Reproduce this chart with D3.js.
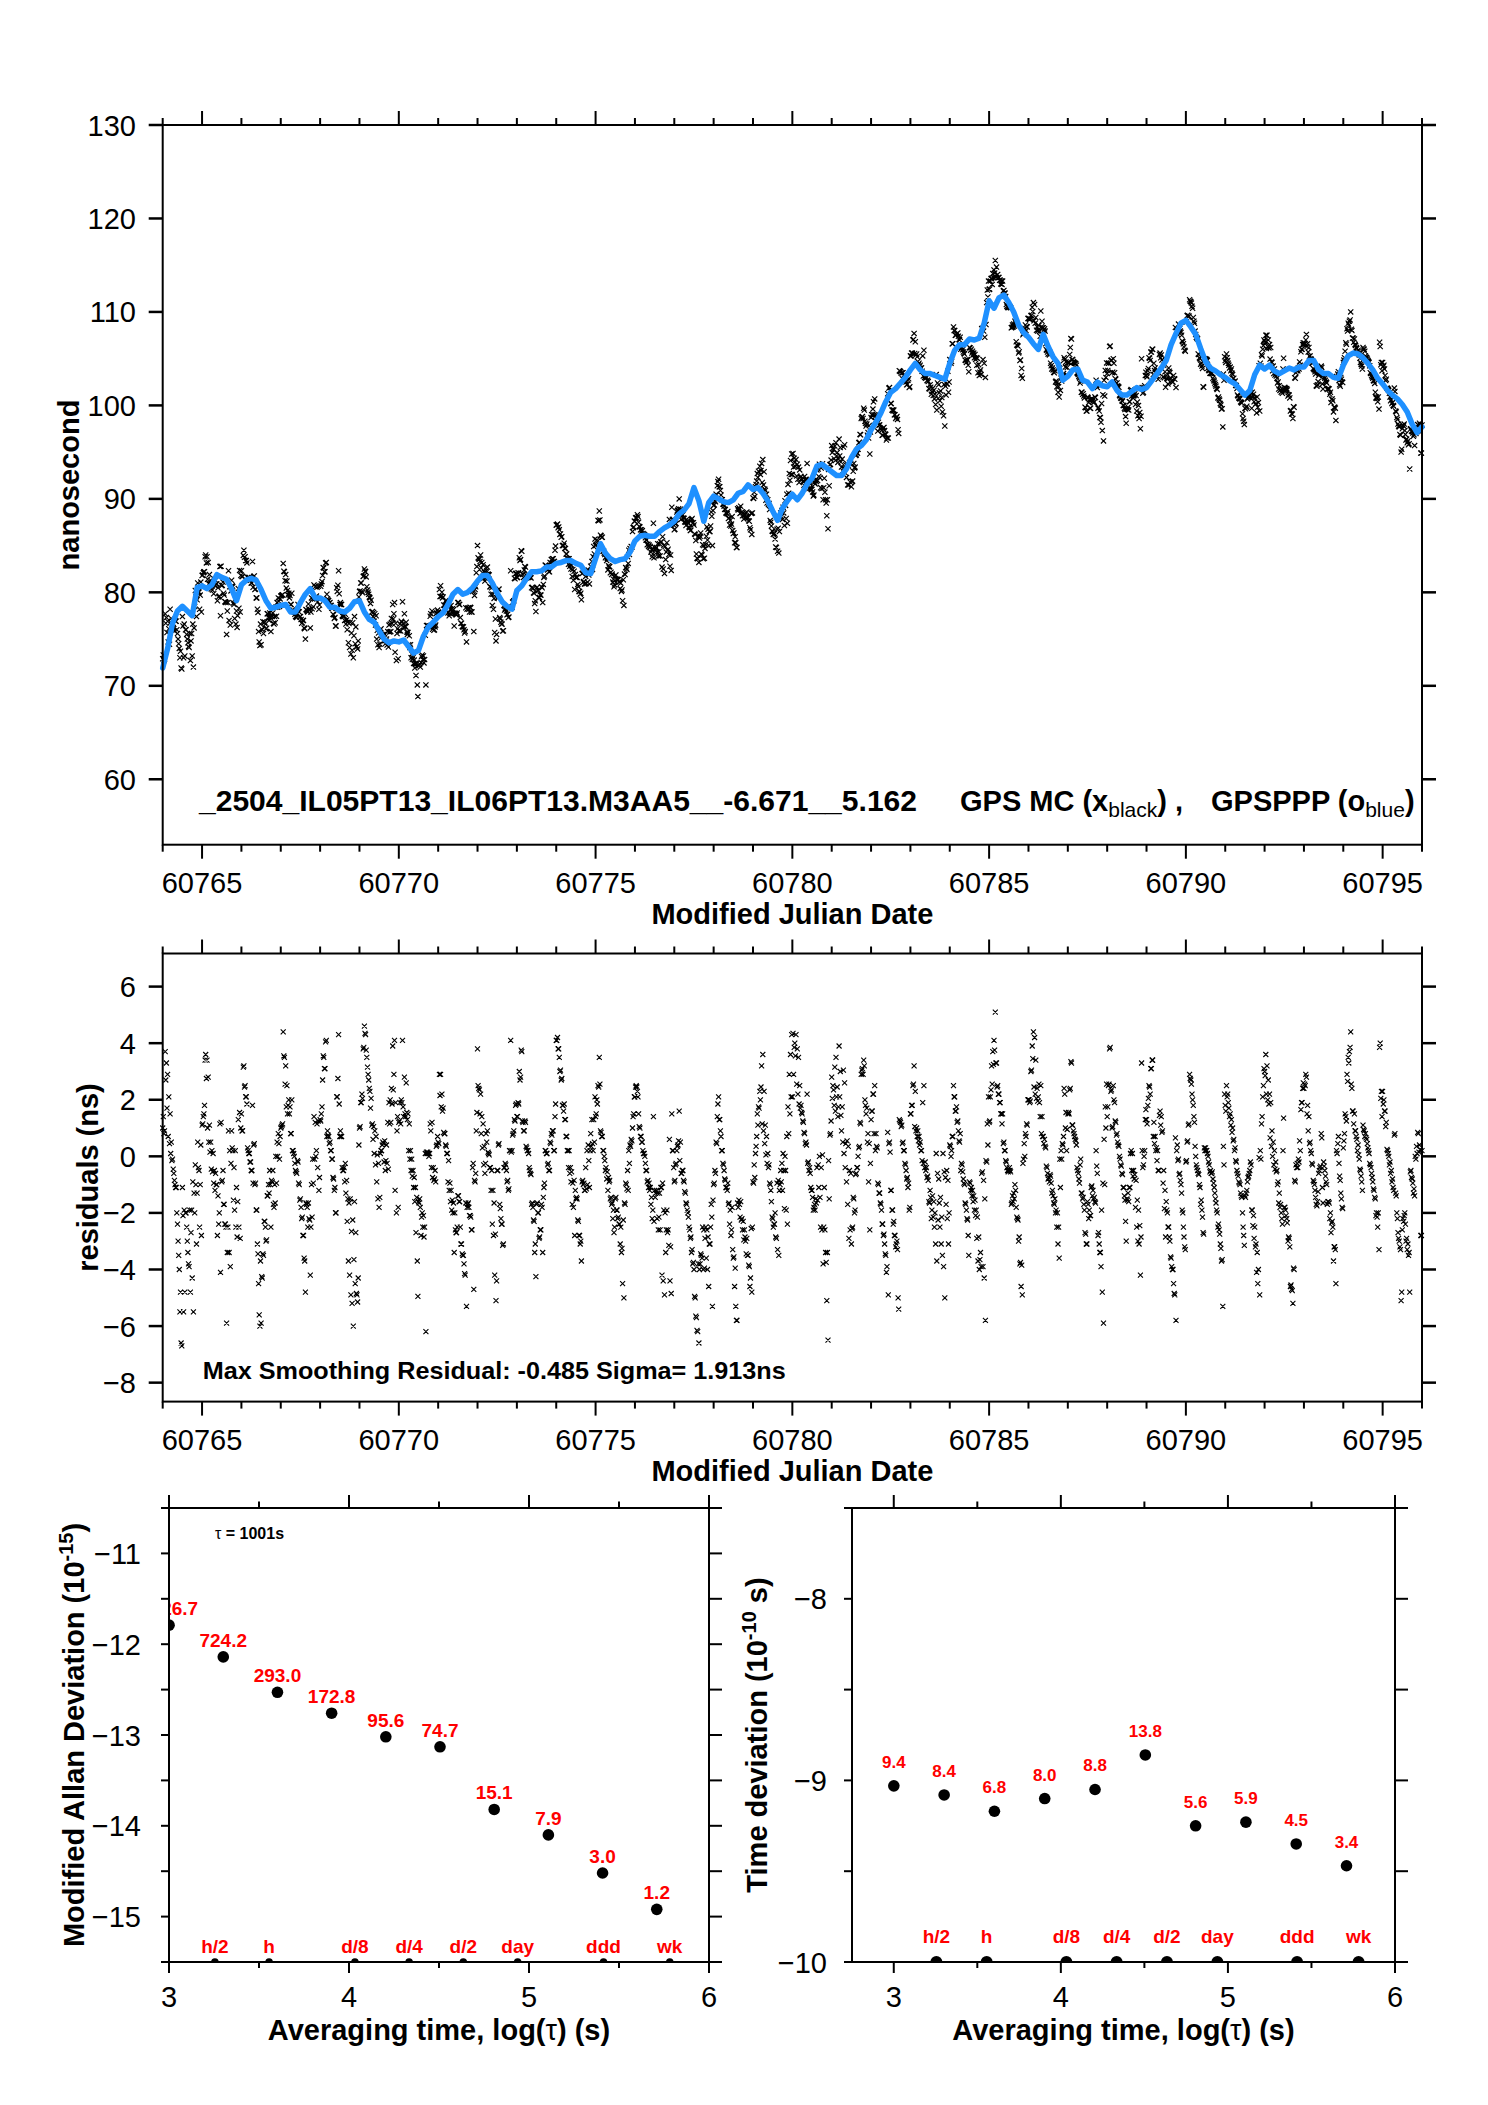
<!DOCTYPE html>
<html><head><meta charset="utf-8">
<script src="https://cdn.jsdelivr.net/npm/d3@7"></script>
<style>body{margin:0;background:#fff} svg text{font-family:"Liberation Sans",Arial,Helvetica,sans-serif}</style>
</head><body><script>
// ---------------- DATA ----------------
const mjdStart = 60764;
const blueStep = 0.125;     // GPSPPP smoothed curve sampling (days)
const residStep = 0.03125;  // GPS MC sampling (days); series B is offset by half a step
const blueNs = [71.9,74.0,76.7,78.0,78.5,78.0,77.5,80.5,80.7,80.4,80.8,81.9,81.6,81.4,80.4,79.1,80.8,81.3,81.5,81.3,80.3,79.1,78.3,78.4,78.6,78.7,77.9,77.9,78.9,79.8,80.4,79.4,79.4,79.1,78.4,78.4,78.0,77.9,78.3,79.0,79.1,77.9,77.1,76.8,75.9,75.0,74.6,74.8,74.7,74.9,74.2,73.5,73.8,75.3,76.3,76.8,77.4,77.8,78.7,79.8,80.3,79.8,80.0,80.5,81.2,81.8,81.8,81.0,79.9,79.0,78.5,78.2,80.2,80.7,81.5,82.2,82.2,82.3,82.7,82.7,83.1,83.2,83.4,83.4,83.1,82.9,82.1,82.0,83.6,85.2,84.2,83.6,83.3,83.5,83.6,84.3,85.5,86.0,86.1,86.0,86.0,86.5,86.9,87.2,87.6,88.4,88.8,89.5,91.2,89.8,87.6,89.6,90.3,90.0,89.7,89.6,89.9,90.6,90.8,91.5,91.0,91.2,90.6,89.8,88.7,87.7,89.0,89.8,90.5,89.9,90.6,91.6,92.2,93.5,93.7,93.3,92.9,92.5,92.5,93.2,94.4,95.3,95.7,96.3,97.4,98.2,99.2,100.4,101.4,101.8,102.4,103.0,103.8,104.5,103.8,103.4,103.4,103.2,103.0,102.8,104.5,105.9,106.5,106.5,107.1,107.0,107.2,108.8,111.2,110.4,111.5,111.8,111.0,110.0,108.6,107.8,107.3,106.6,106.0,107.6,106.3,105.2,104.5,102.7,103.1,103.8,103.9,102.7,102.5,101.8,102.5,102.1,102.0,102.5,101.6,101.1,101.1,101.5,101.9,101.7,101.9,102.6,103.3,104.0,104.8,106.5,107.7,108.8,109.1,108.4,107.6,106.1,104.7,104.0,103.7,103.3,103.0,102.6,102.3,101.7,101.1,101.6,103.3,104.3,103.9,104.3,103.7,103.4,103.7,104.0,103.8,104.1,104.1,104.8,104.8,103.8,103.4,103.4,103.0,102.9,104.3,105.3,105.6,105.5,105.1,104.5,103.8,102.9,102.3,101.6,101.1,100.7,100.1,99.3,98.0,97.1,97.7];
const residNsA = [
1.0,0.8,3.7,3.3,2.9,2.1,1.5,0.5,-0.1,-0.6,-1.0,-1.1,-2.4,-3.5,-5.5,-6.6,
-1.1,-5.5,-4.8,-2.0,-3.0,-3.8,-1.9,-2.7,-4.3,-5.5,-2.0,-1.0,-1.3,-0.4,-2.5,0.4,
1.1,1.4,1.8,3.6,3.4,2.8,1.1,0.5,0.2,0.1,-0.5,-0.6,-1.0,-1.4,-2.0,-4.1,
-0.9,-0.5,-1.7,-2.4,-5.9,-2.5,-3.4,-3.9,0.9,0.2,-0.4,0.2,-1.1,-1.6,-2.5,-2.9,
1.5,0.9,3.2,2.5,2.1,0.3,0.1,-0.2,-0.5,1.8,0.4,-1.0,-1.9,-3.1,-4.5,-6.0,
-5.9,-4.3,-3.5,-2.3,-3.0,-1.4,-1.0,-0.5,-2.5,-0.9,-1.7,-1.0,0.0,0.5,0.8,-0.1,
1.0,1.1,4.4,3.5,3.2,2.5,1.8,1.5,0.8,2.0,0.2,0.0,-0.5,-0.6,-0.2,-1.0,
-1.5,-2.2,-2.8,-3.6,-4.8,-1.7,-2.5,-2.2,-4.2,-1.0,-0.1,1.4,1.2,0.2,-0.4,-1.2,
1.3,1.5,2.7,3.5,3.1,4.1,0.9,0.7,0.5,0.2,-0.1,-0.8,-1.1,-2.0,2.1,4.3,
0.7,0.7,-0.4,-0.5,-0.9,-1.3,-2.3,-3.7,-4.2,-4.9,-5.2,-6.0,-1.6,-2.7,-4.9,-4.3,
1.0,1.9,2.2,3.8,4.6,4.3,3.5,2.9,2.4,1.7,1.1,0.6,0.1,-0.3,-0.9,-1.5,
-1.8,0.1,0.2,0.5,-0.2,-0.5,0.4,1.2,1.9,2.0,2.4,3.9,2.9,-1.2,-2.0,1.4,
1.2,1.9,2.0,4.1,1.4,1.5,2.6,1.3,0.2,-0.1,-0.5,-0.7,-1.1,-1.6,-2.7,-3.7,
-1.6,-1.5,-2.8,-2.0,-2.1,-2.5,-6.2,0.1,0.1,0.1,0.9,1.2,-0.4,-0.8,-0.9,0.4,
0.5,2.9,2.9,2.2,1.7,0.8,0.4,0.1,-0.9,-1.2,-1.6,-1.9,-2.0,-3.4,-2.6,-2.7,
-1.4,-1.6,-2.5,-3.1,-3.5,-3.8,-4.2,-5.3,-1.7,-1.8,-2.1,-2.6,-0.4,-4.7,-0.9,0.9,
3.8,2.4,1.5,0.8,0.3,-0.3,-0.6,0.8,0.9,0.1,-0.4,-1.2,-2.4,-2.8,-4.2,-5.1,
-0.5,0.4,-1.7,-2.2,-2.4,-3.1,-0.4,-0.3,-0.9,-1.2,0.2,4.1,0.2,0.8,1.3,1.8,
1.4,1.9,3.0,2.8,3.7,1.2,0.9,1.2,0.3,0.2,-0.4,-0.6,-1.7,-1.8,-2.3,-3.1,
-1.7,-2.0,-2.9,-2.6,-1.7,-3.4,-1.1,0.2,0.1,-0.3,-0.5,0.5,0.8,0.9,0.2,1.4,
4.1,4.2,3.8,3.0,2.7,1.8,1.6,1.3,0.7,0.2,-0.4,-0.6,-0.9,-1.7,-1.8,-2.8,
-1.5,-1.5,-2.3,-2.8,-3.0,-0.9,-1.0,-1.2,-0.4,0.2,0.4,-1.1,0.8,1.3,0.2,0.5,
1.4,2.0,2.5,3.5,0.9,0.7,0.2,0.0,-0.5,-0.8,-1.2,-0.9,-1.5,-1.7,-2.2,-2.7,
-1.5,-1.9,-2.2,-2.4,-3.1,-3.4,-4.5,-5.0,-1.7,-1.0,-0.5,0.2,0.4,0.6,1.0,1.5,
2.1,2.5,2.3,1.5,1.0,0.7,0.5,0.1,0.0,-0.5,-0.9,-1.1,-1.2,-1.7,-2.2,1.4,
-1.2,-1.3,-2.2,-2.6,-1.3,-1.1,-4.2,-4.4,-4.9,-3.4,-1.9,-2.6,0.6,-3.2,1.5,0.2,
-0.9,-0.3,0.2,0.4,1.6,0.5,-0.6,-0.5,-0.9,-1.3,-1.7,-2.0,-2.5,-2.9,-3.4,-3.8,
-4.0,-5.0,-5.7,-6.2,-6.6,-3.8,-3.5,-2.5,-2.6,-2.9,-3.6,-4.0,-4.6,-3.1,-1.7,-5.3,
-1.0,-0.5,0.5,1.4,2.1,1.3,0.7,0.2,-0.3,-0.8,-1.1,-1.2,-1.7,-2.4,-2.8,-1.8,
-3.6,-4.6,-5.3,-5.8,-1.8,-1.7,-1.6,-2.2,-2.3,-2.6,-3.0,-2.9,-3.5,-3.9,-4.3,-4.8,
-0.9,-0.3,0.1,0.7,1.1,1.7,2.0,3.2,3.6,2.3,1.1,0.7,0.1,-0.3,-1.0,-1.6,
-2.2,-2.4,-2.0,-2.9,-3.3,-3.5,-1.0,-0.9,-1.2,-0.5,0.0,-1.9,-2.4,0.8,1.5,2.1,
2.1,2.9,4.0,4.3,3.8,3.5,2.5,1.8,1.5,1.2,0.8,0.5,2.2,-0.2,-0.4,-1.1,
-1.2,-1.9,-1.7,-1.5,-0.4,-0.3,0.0,-2.5,-2.6,-3.8,-1.1,-3.4,-5.1,-6.5,-1.5,0.8,
2.8,2.5,1.8,1.6,2.1,1.4,3.9,3.0,0.9,0.5,0.1,-0.4,-0.9,-1.7,-2.9,-2.6,
-3.1,-2.5,-1.5,-1.9,-0.6,-0.4,0.3,1.2,2.9,3.1,3.4,2.0,1.5,0.5,-0.9,-2.6,
1.3,1.6,2.2,2.5,0.8,0.3,-1.0,-1.3,-1.7,-2.4,-2.8,-3.1,-3.5,-3.9,-4.9,0.5,
-1.2,-1.9,-2.4,-2.8,-3.2,-3.0,-5.0,1.3,1.2,1.1,0.5,0.2,-0.3,-0.8,-1.1,-1.9,
1.5,1.8,2.5,3.2,2.3,1.0,0.9,0.7,0.5,0.2,1.9,2.5,-0.2,-0.4,-0.7,-1.6,
-1.2,-2.2,-1.4,-1.6,-2.0,0.1,-0.6,-0.8,-2.5,-3.1,-3.5,-3.9,-5.0,-1.7,-2.2,-3.1,
0.4,0.0,0.7,2.5,2.1,1.6,1.2,0.9,0.5,-0.5,-0.3,-0.8,-1.0,-1.7,-2.2,-2.8,
-0.9,-1.2,-1.4,-1.6,-1.9,-2.1,-2.9,-3.7,-4.0,-3.4,-0.6,-3.9,-4.3,-5.8,-0.2,0.4,
1.2,2.1,3.2,3.7,4.1,5.1,3.3,2.5,2.2,1.9,1.5,1.5,0.5,0.2,-0.2,-0.5,
-0.5,-0.5,-1.7,-1.4,-1.3,-1.0,-1.8,-2.2,-3.0,-3.8,-4.6,-4.9,-0.1,0.0,0.7,1.1,
2.0,1.9,3.0,3.9,4.4,4.2,3.4,2.4,2.1,1.9,2.5,1.4,0.7,0.6,0.3,-0.4,
-0.8,-0.9,-0.7,-1.3,-1.4,-1.7,-2.0,-2.5,-3.1,-3.6,-1.1,-0.1,0.4,2.4,1.0,0.2,
1.5,1.5,2.4,3.3,1.1,0.8,0.6,0.4,-0.5,-0.8,-0.3,-1.3,-1.5,-1.7,-2.7,-3.1,
-1.6,-2.2,-2.1,-1.1,-1.4,-1.5,-1.6,0.2,-0.6,-2.7,-3.4,-3.9,-4.8,-5.9,-1.0,1.0,
1.4,2.5,3.8,2.3,1.0,2.5,1.9,1.2,0.8,0.4,0.0,-0.3,-0.6,-1.1,-1.4,-2.3,
-1.5,-1.3,-1.1,0.1,-0.5,-0.7,-0.8,-1.8,-2.5,-3.0,-3.1,-4.2,3.3,-0.4,0.0,1.3,
1.3,1.8,2.5,2.2,3.1,3.4,1.2,0.7,0.3,0.2,-0.5,1.6,1.4,0.9,-0.5,-1.2,
-1.6,-2.0,-2.5,-3.0,-3.6,-4.0,-4.5,-4.9,-5.8,0.4,-0.1,-0.6,-1.0,-1.9,-2.5,-3.2,
-0.2,0.5,1.1,2.9,2.7,2.2,1.8,1.2,0.0,-0.4,-0.6,-1.0,-1.7,-1.9,-2.7,0.3,
0.3,0.2,0.0,-0.3,-0.5,-0.6,-0.8,-1.1,-1.5,-1.9,-2.5,-2.6,-3.1,-3.7,-5.3,-0.3,
1.8,2.5,2.2,1.7,1.5,1.3,1.0,0.6,0.3,-0.2,-0.6,-0.9,-1.0,-1.4,-2.0,-2.8,
-1.4,-1.3,-0.9,-0.7,-0.5,-0.3,-1.9,-2.1,-2.5,-3.1,-3.4,-4.0,-4.9,-0.1,1.4,2.5,
3.0,3.6,3.2,2.7,2.2,1.9,0.9,0.5,0.2,-0.2,-0.5,-0.9,-1.3,-1.7,-2.2,0.2,
-1.8,-1.9,-2.2,-3.0,-2.9,-4.6,-4.7,-5.2,-4.0,-0.9,-0.4,-0.4,-0.2,0.2,1.9,2.4,
2.4,2.5,2.8,1.8,1.4,0.5,0.1,-0.3,-0.9,-1.2,-1.7,-1.6,-0.6,-0.4,0.8,-1.1,
-0.2,-0.5,-0.9,-1.7,-1.6,-2.2,-2.7,-2.3,-3.7,-3.2,-4.5,0.1,0.7,-0.7,-1.3,-1.8,
0.3,0.8,1.4,2.9,3.5,3.7,4.4,2.4,1.6,1.5,0.9,0.6,0.4,-0.1,-0.5,-0.9,
1.1,0.9,0.8,0.6,0.3,0.1,-0.3,-0.6,-0.9,-1.2,-1.5,-2.0,-2.5,-3.3,4.0,2.3,
2.3,2.0,1.6,1.2,0.2,0.0,-0.2,-0.5,-0.8,-1.2,0.8,-1.4,-2.2,-2.9,-3.2,-5.1,
-2.6,-2.3,-2.0,-3.0,-3.3,-3.5,-4.8,-0.5,-0.8,-1.3,-1.4,-0.1,0.1,0.8,0.4,-2.8,
0.2];
const residNsB = [
1.4,0.9,2.7,1.7,0.7,0.45,0.1,-0.15,-0.45,-0.85,-1.1,-2.0,-3.0,-4.0,-4.8,-6.7,
-2.1,-1.9,-2.0,-2.5,-3.4,-3.9,-4.8,-1.9,-0.9,-1.3,-0.3,-3.1,0.5,-0.5,-1.0,-2.8,
1.15,1.5,3.4,2.75,1.0,0.5,0.15,-0.45,-0.55,-0.95,-1.2,-1.0,-2.8,-2.4,1.15,1.2,
-0.85,-1.7,-2.4,-2.5,-3.4,0.9,0.2,-0.25,0.3,-1.55,-1.9,-2.5,-2.85,1.3,1.55,1.0,
0.9,3.15,2.45,2.1,1.85,0.2,0.1,-0.2,-0.5,-0.95,0.45,-0.95,-1.9,-3.45,-5.6,-3.7,
-4.25,-3.45,-2.3,-2.5,-2.95,-1.4,-1.3,-1.0,-0.85,-0.5,-1.8,-1.65,-0.95,0.0,0.45,0.7,
1.05,1.15,3.55,2.55,1.75,1.5,2.0,1.75,0.8,0.2,0.1,-0.25,-0.55,-0.15,-0.95,-1.55,
-1.8,-2.15,-2.8,-3.7,-1.65,-1.8,-1.65,-2.25,-2.5,-2.15,-0.95,-0.1,0.0,1.15,1.25,-0.75,
1.25,1.75,3.55,3.1,4.05,0.7,0.75,0.45,0.2,-0.1,-0.75,-1.2,-2.0,2.1,2.75,1.85,
0.9,0.7,-0.5,-0.4,-0.25,-0.85,-1.5,-1.65,-1.5,-2.65,-2.25,-3.65,-4.5,-4.85,-5.15,0.4,
1.05,1.9,2.05,3.85,4.35,3.75,3.15,2.7,2.3,2.05,1.15,1.05,0.9,0.7,0.05,-0.25,
-1.45,0.2,0.4,0.45,0.55,-0.15,-0.25,-0.45,1.15,1.2,1.85,2.35,4.1,1.9,0.9,-1.8,
1.25,1.15,1.9,1.75,2.8,1.4,1.55,1.5,1.15,0.2,-0.1,-0.5,-0.75,-1.1,-1.45,-4.95,
-1.65,-1.8,-2.15,-2.5,-2.85,0.1,0.15,0.15,0.0,1.15,-0.4,-0.75,-0.85,-0.5,0.35,0.7,
0.45,2.15,1.75,1.6,0.85,0.8,0.35,0.1,-0.15,-0.95,-1.2,-1.55,-1.65,-2.0,-2.7,-2.5,
-1.4,-1.6,-3.1,-3.45,-3.5,-4.15,-1.65,-1.8,-1.65,-2.1,-2.15,-2.6,-0.25,-0.85,-0.6,1.55,
2.5,2.35,2.2,1.4,1.15,0.35,-0.25,0.5,0.15,0.05,-0.4,-0.5,-1.2,-1.65,-2.75,-4.4,
-0.5,0.45,-1.85,-2.4,-3.15,-0.4,-0.25,-0.5,-0.85,-1.15,0.2,0.15,0.75,0.9,1.25,1.85,
1.4,1.85,2.7,3.75,1.25,0.9,1.25,0.35,0.2,0.1,-0.5,-0.65,-1.65,-2.25,-3.4,-4.25,
-1.65,-2.0,-2.85,-2.6,-1.8,-1.45,-0.95,0.2,0.1,-0.25,-0.5,0.45,0.75,0.9,0.2,1.85,
4.1,3.8,3.5,3.05,2.75,1.8,1.85,1.3,0.7,0.2,0.2,-0.4,-0.55,-0.95,-0.85,-1.2,
-1.45,-2.25,-2.8,-3.1,-3.7,-0.85,-0.95,-1.2,-1.15,-1.0,-0.15,0.2,0.35,0.45,1.3,2.1,
1.5,1.85,2.45,2.55,0.85,0.7,0.2,-0.15,-0.4,-0.55,-0.75,-0.85,-1.45,-1.65,-1.9,-2.5,
-1.45,-1.9,-2.15,-2.4,-2.5,-3.25,-2.25,-1.65,-0.95,-1.15,-1.2,-0.25,0.35,0.55,1.4,2.1,
2.45,2.45,2.1,1.05,0.7,0.5,0.2,0.1,-0.25,-0.5,-0.85,-0.95,-1.1,-1.45,-1.9,-2.3,
-1.45,-1.2,-1.3,-2.15,-2.6,-1.1,-0.95,-1.9,-2.0,-2.6,-2.7,-3.15,-4.4,-4.85,0.2,-0.4,
-0.85,-0.25,0.35,0.55,-0.15,-0.6,-0.5,-0.85,-1.25,-1.65,-1.9,-2.15,-2.6,-2.85,-3.3,-3.75,
-4.95,-5.65,-6.15,-3.8,-4.0,-3.45,-3.6,-4.0,-3.95,-2.5,-2.6,-2.85,-3.1,-2.5,-2.15,-1.55,
-0.95,-0.6,0.45,1.85,1.3,0.9,0.2,-0.25,-0.5,-0.85,-1.1,-0.95,-1.65,-1.9,-2.6,-3.3,
-3.55,-3.95,-5.8,-1.65,-1.55,-2.15,-2.25,-2.6,-2.95,-2.85,-3.45,-3.5,-3.85,-4.6,-2.55,-2.5,
-0.95,-0.75,0.35,1.5,1.75,2.3,2.45,1.15,0.9,0.45,0.05,-0.25,-0.4,-0.95,-1.2,-2.15,
-2.5,-2.4,-2.85,-0.95,-0.85,-1.2,-0.5,-0.25,0.1,-1.85,-0.5,0.7,1.75,2.9,3.6,4.3,
4.35,3.85,3.55,2.55,2.2,1.85,1.7,1.55,1.25,0.85,0.45,0.4,-0.25,-0.5,-0.6,-1.2,
-1.45,-1.8,-1.9,-1.65,-1.55,-1.1,-1.45,-0.4,0.05,-2.5,-2.6,-3.75,-3.4,-0.15,0.75,1.25,
2.05,2.35,3.15,3.5,2.45,1.75,2.1,1.45,1.75,3.05,2.6,0.45,0.55,0.35,-0.5,-0.6,
-2.55,-1.45,-2.0,-0.65,-0.4,0.0,0.35,1.15,3.05,2.9,3.2,1.8,1.7,0.8,0.45,-0.25,
1.6,2.2,0.8,0.2,0.35,-0.95,-1.3,-1.65,-1.9,-2.4,-2.75,-3.45,-4.1,0.85,0.45,0.15,
-1.2,-1.9,-2.3,-2.8,-3.1,-3.3,-5.4,1.25,1.05,0.45,0.2,-0.25,-0.5,-0.75,-0.95,-1.8,
1.5,1.8,2.55,1.05,0.9,0.7,0.55,0.4,0.2,-0.15,-0.25,-0.4,-0.5,-0.75,-0.85,-1.65,
-1.45,-1.9,-2.15,-2.5,-3.1,-3.7,-2.25,-1.65,-1.45,-2.15,0.1,-0.55,-0.75,-0.5,-0.85,-2.0,
0.35,0.2,0.7,2.1,1.6,1.75,1.25,0.55,0.8,-0.25,-0.55,-0.95,-1.65,-1.9,-2.25,-3.5,
-0.95,-1.1,-1.2,-1.4,-1.55,-1.9,-2.15,-2.85,-3.65,-3.9,-0.55,-0.85,-1.5,-0.15,1.15,2.1,
1.25,2.35,2.55,3.25,3.75,3.3,2.45,2.2,1.9,1.5,1.15,0.45,0.2,-0.15,-0.4,-0.55,
-0.4,-0.55,-1.65,-1.6,-1.5,-1.2,-2.15,-2.25,-2.85,-3.75,-3.85,-0.25,0.45,0.8,1.15,2.0,
2.0,1.95,3.05,3.45,2.45,2.2,2.05,1.95,2.55,1.4,0.8,0.7,0.45,0.35,-0.35,-0.6,
-0.75,-0.65,-0.95,-1.2,-1.65,-1.5,-1.9,-2.0,-2.5,-0.1,0.2,0.45,0.7,2.2,1.55,0.95,
1.55,2.35,3.35,1.1,0.9,0.7,0.55,-0.4,-0.6,-0.95,-0.1,-1.3,-1.45,-1.9,-2.75,-3.1,
-1.7,-1.9,-2.1,-1.05,-1.2,-1.45,-1.65,-0.35,-2.8,-3.1,-3.4,-1.9,-0.95,0.6,1.75,2.55,
1.75,2.55,3.85,2.35,1.05,2.0,1.25,0.75,0.5,0.35,-0.1,-0.35,-0.65,-1.1,-1.55,-3.0,
-1.55,-1.6,-1.1,0.2,0.1,-0.5,-0.65,-0.85,-1.55,-1.9,-2.45,-2.85,0.2,-0.3,0.2,1.65,
1.15,2.05,2.45,3.1,3.4,0.7,0.45,0.2,-0.15,-0.5,1.45,1.1,0.85,-0.95,-1.85,-2.85,
-1.9,-2.5,-2.85,-3.55,-3.9,-4.0,-4.85,0.65,0.2,-0.15,-0.65,-0.85,-1.3,-2.0,-2.85,-3.3,
-0.15,0.55,1.15,2.75,2.55,2.0,1.4,0.35,-0.3,-0.5,-0.65,-1.1,-1.55,-2.15,-2.75,0.2,
0.2,0.1,-0.2,-0.55,-0.6,-0.55,-0.95,-1.3,-1.65,-2.0,-2.4,-2.75,-3.25,-3.65,0.35,2.2,
1.6,2.1,1.9,1.4,1.1,0.85,0.55,0.2,-0.15,-0.5,-0.7,-0.95,-1.3,-1.45,-2.5,-3.15,
-1.45,-1.2,-0.75,-0.6,-0.2,-1.9,-2.45,-2.9,-3.2,-4.1,-4.5,-0.05,0.2,1.15,2.1,3.1,
2.85,2.2,2.0,1.85,0.65,0.35,0.0,-0.3,-0.45,-0.55,-1.0,-1.65,-1.8,-2.0,-2.4,1.35,
-1.8,-2.1,-2.35,-2.85,-3.2,-4.55,-4.75,-3.95,-0.85,-0.3,-0.25,-0.1,0.55,1.65,1.9,2.6,
2.55,2.9,1.5,0.9,0.45,0.2,-0.25,-0.85,-1.0,-1.45,-1.75,-1.25,-0.5,-0.35,0.65,-1.65,
-0.35,-0.7,-1.0,-1.6,-1.65,-2.0,-2.35,-2.5,-3.2,-3.3,0.2,0.45,-0.25,-0.85,-1.5,-1.85,
0.55,1.5,1.25,2.65,3.3,3.85,2.55,1.6,1.15,0.9,0.7,0.2,0.05,-0.45,-0.7,-1.2,
0.95,0.7,0.65,0.45,0.2,-0.25,-0.4,-0.75,-1.15,-1.45,-2.1,-2.15,-2.0,3.85,2.05,1.4,
1.85,1.6,1.05,0.25,0.1,-0.3,-0.6,-0.9,-1.1,0.75,-1.3,-2.0,-2.7,-3.0,-3.3,-4.8,
-2.2,-2.1,-2.4,-2.9,-3.1,-3.4,-0.55,-0.75,-0.95,-1.15,0.0,0.35,0.85,0.15,0.25,-2.8];
const mjdMajorTicks = [60765,60770,60775,60780,60785,60790,60795];
const nsTicks = [60,70,80,90,100,110,120,130];
const residTicks = [-8,-6,-4,-2,0,2,4,6];
const titleText = "_2504_IL05PT13_IL06PT13.M3AA5__-6.671__5.162";
const statsText = "Max Smoothing Residual: -0.485  Sigma= 1.913ns";

const logTau = [3.0004,3.3015,3.6025,3.9035,4.2046,4.5056,4.8066,5.1077,5.4087,5.7098];
const mdevLog = [-11.79,-12.14,-12.53,-12.76,-13.02,-13.13,-13.82,-14.10,-14.52,-14.92];
const mdevLabels = ["1626.7","724.2","293.0","172.8","95.6","74.7","15.1","7.9","3.0","1.2"];
const tdevLog = [-9.03,-9.08,-9.17,-9.10,-9.05,-8.86,-9.25,-9.23,-9.35,-9.47];
const tdevLabels = ["9.4","8.4","6.8","8.0","8.8","13.8","5.6","5.9","4.5","3.4"];
const markerLog = [3.255,3.556,4.033,4.334,4.635,4.937,5.414,5.782];
const markerLabels = ["h/2","h","d/8","d/4","d/2","day","ddd","wk"];
const mdevTicks = [-15,-14,-13,-12,-11];
const tdevTicks = [-10,-9,-8];
const logTicks = [3,4,5,6];

// ---------------- DRAW ----------------
const W = 1488, H = 2105;
const svg = d3.select("body").append("svg").attr("width", W).attr("height", H)
  .attr("viewBox", `0 0 ${W} ${H}`);
svg.append("rect").attr("width", W).attr("height", H).attr("fill", "#fff");
const minus = s => String(s).replace("-", "\u2212");

function frame(g, x, y) {
  const [x0, x1] = x.range(), [y0, y1] = y.range();
  g.append("rect").attr("x", x0).attr("y", y1).attr("width", x1 - x0).attr("height", y0 - y1)
    .attr("fill", "none").attr("stroke", "#000").attr("stroke-width", 2);
}
function xTicks(g, x, y, vals, lenTop, lenBot) {
  const yt = y.range()[1], yb = y.range()[0];
  vals.forEach(v => {
    const px = x(v);
    if (lenTop) g.append("line").attr("x1", px).attr("x2", px).attr("y1", yt).attr("y2", yt - lenTop).attr("stroke", "#000").attr("stroke-width", 2);
    if (lenBot) g.append("line").attr("x1", px).attr("x2", px).attr("y1", yb).attr("y2", yb + lenBot).attr("stroke", "#000").attr("stroke-width", 2);
  });
}
function yTicks(g, x, y, vals, lenL, lenR, sw) {
  const xl = x.range()[0], xr = x.range()[1];
  vals.forEach(v => {
    const py = y(v);
    g.append("line").attr("x1", xl).attr("x2", xl - lenL).attr("y1", py).attr("y2", py).attr("stroke", "#000").attr("stroke-width", sw || 2);
    g.append("line").attr("x1", xr).attr("x2", xr + lenR).attr("y1", py).attr("y2", py).attr("stroke", "#000").attr("stroke-width", sw || 2);
  });
}
function txt(g, x, y, s, size, opt = {}) {
  return g.append("text").attr("x", x).attr("y", y).attr("font-size", size)
    .attr("font-weight", opt.bold ? "bold" : "normal")
    .attr("text-anchor", opt.anchor || "start")
    .attr("fill", opt.fill || "#000").text(s);
}
function vlabel(g, x, y, size) {
  return g.append("text").attr("transform", `translate(${x},${y}) rotate(-90)`)
    .attr("font-size", size).attr("font-weight", "bold").attr("text-anchor", "middle");
}

const mjdAll = d3.range(60764, 60797, 1);
const mjdMinor = mjdAll.filter(v => !mjdMajorTicks.includes(v));

// measurement samples: residual series A (on grid) and B (half-step offset)
const samples = [];
residNsA.forEach((r, i) => samples.push({ t: mjdStart + i * residStep, r }));
residNsB.forEach((r, i) => samples.push({ t: mjdStart + (i + 0.5) * residStep, r }));
const blueAt = t => blueNs[Math.min(blueNs.length - 1, Math.round((t - mjdStart) / blueStep))];

function crosses(g, pts, x, y, s, sw) {
  let p = "";
  pts.forEach(d => {
    const px = x(d[0]), py = y(d[1]);
    p += `M${(px - s).toFixed(1)},${(py - s).toFixed(1)}L${(px + s).toFixed(1)},${(py + s).toFixed(1)}M${(px - s).toFixed(1)},${(py + s).toFixed(1)}L${(px + s).toFixed(1)},${(py - s).toFixed(1)}`;
  });
  g.append("path").attr("d", p).attr("stroke", "#000").attr("stroke-width", sw).attr("fill", "none");
}

// ---- Panel 1: time series ----
const xTop = d3.scaleLinear().domain([60764, 60796]).range([162.7, 1422]);
const yTop = d3.scaleLinear().domain([53, 130]).range([844.7, 125]);
const g1 = svg.append("g");
// GPS MC measurement = GPSPPP smoothing + residual
crosses(g1, samples.map(d => [d.t, blueAt(d.t) + d.r]), xTop, yTop, 2.6, 1.15);
g1.append("path").datum(blueNs)
  .attr("d", d3.line().x((d, i) => xTop(mjdStart + i * blueStep)).y(d => yTop(d)))
  .attr("fill", "none").attr("stroke", "#1E90FF").attr("stroke-width", 5.5)
  .attr("stroke-linejoin", "round").attr("stroke-linecap", "round");

frame(g1, xTop, yTop);
xTicks(g1, xTop, yTop, mjdMajorTicks, 14, 14);
xTicks(g1, xTop, yTop, mjdMinor, 7, 7);
yTicks(g1, xTop, yTop, nsTicks, 14, 14, 2.5);
nsTicks.forEach(v => txt(g1, 136, yTop(v) + 10.5, v, 29, { anchor: "end" }));
mjdMajorTicks.forEach(v => txt(g1, xTop(v), 892.7, v, 29, { anchor: "middle" }));
txt(g1, 792.4, 923.7, "Modified Julian Date", 29, { bold: true, anchor: "middle" });
vlabel(g1, 79, 485, 29).text("nanosecond");
txt(g1, 199, 811, titleText, 29, { bold: true }).attr("textLength", 718).attr("lengthAdjust", "spacingAndGlyphs");
{
  const t = g1.append("text").attr("x", 960).attr("y", 811).attr("font-size", 29).attr("font-weight", "bold");
  t.append("tspan").text("GPS MC (x");
  t.append("tspan").attr("dy", 6).attr("font-size", 21).attr("font-weight", "normal").text("black");
  t.append("tspan").attr("dy", -6).text(") ,");
  const t2 = g1.append("text").attr("x", 1211).attr("y", 811).attr("font-size", 29).attr("font-weight", "bold");
  t2.append("tspan").text("GPSPPP (o");
  t2.append("tspan").attr("dy", 6).attr("font-size", 21).attr("font-weight", "normal").text("blue");
  t2.append("tspan").attr("dy", -6).text(")");
}

// ---- Panel 2: residuals ----
const yRes = d3.scaleLinear().domain([-8.67, 7.17]).range([1401.6, 953.5]);
const g2 = svg.append("g");
crosses(g2, samples.map(d => [d.t, d.r]), xTop, yRes, 2.5, 1.1);
frame(g2, xTop, yRes);
xTicks(g2, xTop, yRes, mjdMajorTicks, 14, 14);
xTicks(g2, xTop, yRes, mjdMinor, 7, 7);
yTicks(g2, xTop, yRes, residTicks, 14, 14, 2.5);
residTicks.forEach(v => txt(g2, 136, yRes(v) + 10.5, minus(v), 29, { anchor: "end" }));
mjdMajorTicks.forEach(v => txt(g2, xTop(v), 1449.6, v, 29, { anchor: "middle" }));
txt(g2, 792.4, 1481, "Modified Julian Date", 29, { bold: true, anchor: "middle" });
vlabel(g2, 98, 1177.5, 29).text("residuals (ns)");
txt(g2, 202.7, 1379, statsText, 24, { bold: true }).attr("textLength", 583).attr("lengthAdjust", "spacingAndGlyphs");

// ---- Panel 3/4: stability ----
function stabPanel(id, x, y, vals, labels, labelSize, labelGap, markerR, markerGap, yTickVals, yMinor, yLabX) {
  const g = svg.append("g");
  const [x0, x1] = x.range(), [yb, yt] = y.range();
  const clip = svg.append("clipPath").attr("id", id);
  clip.append("rect").attr("x", x0).attr("y", yt).attr("width", x1 - x0).attr("height", yb - yt);
  const gc = g.append("g").attr("clip-path", `url(#${id})`);
  gc.selectAll("circle.pt").data(vals).join("circle")
    .attr("cx", (d, i) => x(logTau[i])).attr("cy", d => y(d)).attr("r", 5.8).attr("fill", "#000");
  gc.selectAll("text.lb").data(labels).join("text")
    .attr("x", (d, i) => x(logTau[i])).attr("y", (d, i) => y(vals[i]) - labelGap)
    .attr("text-anchor", "middle").attr("font-size", labelSize).attr("font-weight", "bold")
    .attr("fill", "#FF0000").text(d => d);
  gc.selectAll("circle.mk").data(markerLog).join("circle")
    .attr("cx", d => x(d)).attr("cy", yb).attr("r", markerR).attr("fill", "#000");
  gc.selectAll("text.mk").data(markerLabels).join("text")
    .attr("x", (d, i) => x(markerLog[i])).attr("y", yb - markerGap)
    .attr("text-anchor", "middle").attr("font-size", 19).attr("font-weight", "bold")
    .attr("fill", "#FF0000").text(d => d);
  frame(g, x, y);
  xTicks(g, x, y, logTicks, 13, 11);
  xTicks(g, x, y, [3.5, 4.5, 5.5], 6.5, 6);
  yTicks(g, x, y, yMinor, 8, 13, 2);
  yTickVals.forEach(v => txt(g, yLabX, y(v) + 10.5, minus(v), 29, { anchor: "end" }));
  logTicks.forEach(v => txt(g, x(v), yb + 45, v, 29, { anchor: "middle" }));
  const xl = g.append("text").attr("x", (x0 + x1) / 2).attr("y", yb + 78).attr("font-size", 29)
    .attr("font-weight", "bold").attr("text-anchor", "middle");
  xl.append("tspan").text("Averaging time, log(");
  xl.append("tspan").attr("font-weight", "normal").text("\u03C4");
  xl.append("tspan").text(") (s)");
  return g;
}
const yTopS = 1508, yBotS = 1962;
const xM = d3.scaleLinear().domain([3, 6]).range([169, 709]);
const yM = d3.scaleLinear().domain([-15.5, -10.5]).range([yBotS, yTopS]);
const gM = stabPanel("clipM", xM, yM, mdevLog, mdevLabels, 19, 10, 3.8, 9, mdevTicks,
  d3.range(-15.5, -10.49, 0.5), 141);
{
  const t = vlabel(gM, 84, (yTopS + yBotS) / 2, 29);
  t.append("tspan").text("Modified Allan Deviation (10");
  t.append("tspan").attr("dy", -11).attr("font-size", 20).text("-15");
  t.append("tspan").attr("dy", 11).text(")");
  const tau = gM.append("text").attr("x", 215).attr("y", yTopS + 31).attr("font-size", 16).attr("font-weight", "bold");
  tau.append("tspan").attr("font-weight", "normal").text("\u03C4");
  tau.append("tspan").text(" = 1001s");
}
const xT = d3.scaleLinear().domain([2.75, 6]).range([852, 1395]);
const yT = d3.scaleLinear().domain([-10, -7.5]).range([yBotS, yTopS]);
const gT = stabPanel("clipT", xT, yT, tdevLog, tdevLabels, 17, 18, 6, 19, tdevTicks,
  d3.range(-10, -7.49, 0.5), 827);
{
  const t = vlabel(gT, 767, (yTopS + yBotS) / 2, 29);
  t.append("tspan").text("Time deviation (10");
  t.append("tspan").attr("dy", -11).attr("font-size", 20).text("-10");
  t.append("tspan").attr("dy", 11).text(" s)");
}
</script></body></html>
